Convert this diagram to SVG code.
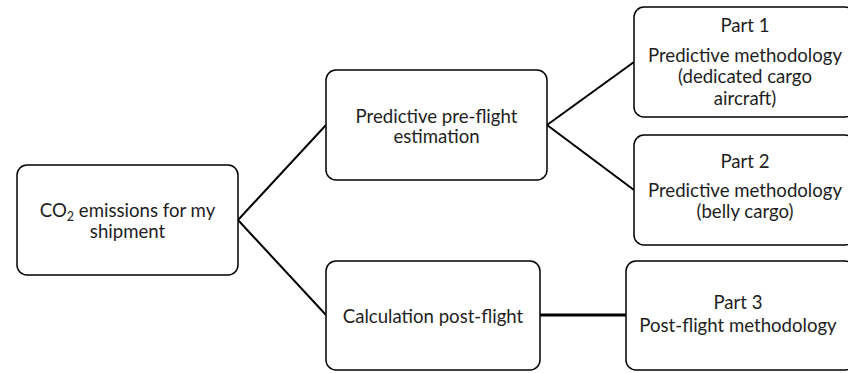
<svg xmlns="http://www.w3.org/2000/svg" width="848" height="373" viewBox="0 0 848 373">
<style>
.box{fill:#fff;stroke:#000;stroke-width:1.5}
.t{font-family:Lato,"Open Sans","Liberation Sans",sans-serif;font-size:18.6px;fill:#1e1e1e;text-anchor:middle}
.c{stroke:#000;stroke-width:2;fill:none}
</style>
<rect width="848" height="373" fill="#fff"/>
<g id="connectors">
<path class="c" d="M238 220 L326 125 M238 220 L326 315"/>
<path class="c" d="M547 125 L634 62 M547 125 L634 190"/>
<path class="c" d="M540 315 L626 315" style="stroke-width:3"/>
</g>
<g id="n-co2">
<rect class="box" x="17" y="165" width="221" height="110" rx="10"/>
<text class="t" x="127.5" y="217">CO<tspan font-size="12.5" dy="4">2</tspan><tspan dy="-4"> emissions for my</tspan></text>
<text class="t" x="127.5" y="238">shipment</text>
</g>
<g id="n-pre">
<rect class="box" x="326" y="70" width="221" height="110" rx="10"/>
<text class="t" x="436.5" y="123">Predictive pre-flight</text>
<text class="t" x="436.5" y="143">estimation</text>
</g>
<g id="n-post">
<rect class="box" x="326" y="261" width="214" height="109" rx="10"/>
<text class="t" x="433" y="323">Calculation post-flight</text>
</g>
<g id="n-part1">
<rect class="box" x="634" y="7" width="221" height="110" rx="10"/>
<text class="t" x="745" y="32">Part 1</text>
<text class="t" x="745" y="62">Predictive methodology</text>
<text class="t" x="745" y="83">(dedicated cargo</text>
<text class="t" x="745" y="105">aircraft)</text>
</g>
<g id="n-part2">
<rect class="box" x="634" y="135" width="221" height="110" rx="10"/>
<text class="t" x="745" y="168">Part 2</text>
<text class="t" x="745" y="197">Predictive methodology</text>
<text class="t" x="745" y="218">(belly cargo)</text>
</g>
<g id="n-part3">
<rect class="box" x="626" y="261" width="229" height="109" rx="10"/>
<text class="t" x="738" y="309">Part 3</text>
<text class="t" x="738" y="332">Post-flight methodology</text>
</g>
</svg>
